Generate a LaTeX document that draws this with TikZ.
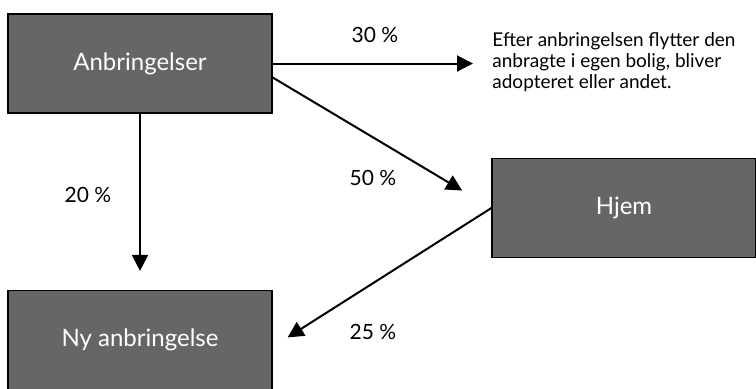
\documentclass[tikz,border=0pt]{standalone}
\usepackage{fontspec}
\setmainfont{Lato}
\usetikzlibrary{arrows.meta}
\definecolor{boxgray}{gray}{0.40}
\tikzset{
  feltbox/.style={draw=black, line width=0.6pt, fill=boxgray, text=white,
    minimum width=132pt, minimum height=49.5pt, inner sep=0pt,
    font=\fontsize{12}{14}\selectfont},
  pil/.style={-{Triangle[length=8pt,width=8pt]}, line width=1pt},
  pct/.style={font=\fontsize{10.5}{12}\selectfont}
}

\begin{document}
\begin{tikzpicture}[x=0.5pt,y=-0.5pt]
\useasboundingbox (0,0) rectangle (756,388);
% the three boxes
\node[feltbox] (anbr) at (140,63.5) {Anbringelser};
\node[feltbox] (hjem) at (624,208) {Hjem};
\node[feltbox] (nyanbr) at (140,340) {Ny anbringelse};
% the note on the right
\node[anchor=west, align=left, inner sep=0pt, font=\fontsize{9.5}{10.5}\selectfont] (note) at (492,62)
  {Efter anbringelsen flytter den\\anbragte i egen bolig, bliver\\adopteret eller andet.};
% arrows between the boxes
\draw[pil, shorten >=9.5pt] (anbr.east) -- (anbr.east -| note.west);
\draw[pil, shorten >=17pt] (anbr.-6) -- (hjem.west);
\draw[pil, shorten >=9.5pt] (anbr) -- (nyanbr);
\draw[pil, shorten >=8.9pt] (hjem.west) -- (nyanbr.-3);
% the percentages
\node[pct] (p30) at (375,35) {30 \%};
\node[pct] (p50) at (373,178) {50 \%};
\node[pct] (p20) at (88,195) {20 \%};
\node[pct] (p25) at (373,332) {25 \%};
\end{tikzpicture}
\end{document}
